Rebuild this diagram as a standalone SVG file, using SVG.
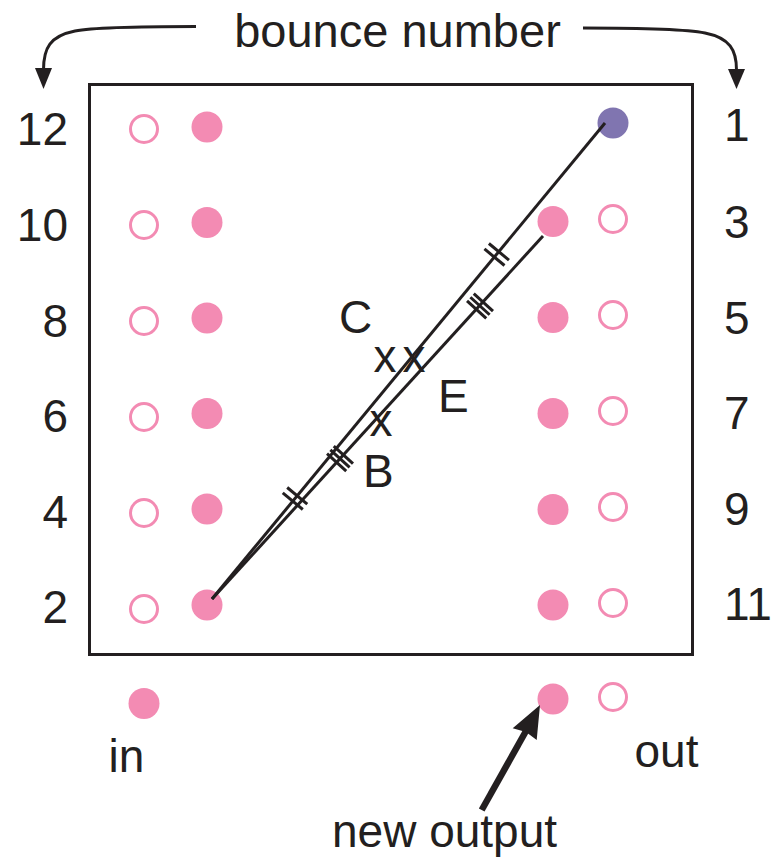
<svg xmlns="http://www.w3.org/2000/svg" width="778" height="863" viewBox="0 0 778 863">
  <style>
    text { font-family: "Liberation Sans", Arial, Helvetica, sans-serif; font-size: 46px; fill: #231F20; }
    .fill { fill: #F38BB3; }
    .open { fill: #FFFFFF; stroke: #F38BB3; stroke-width: 3; }
    .purple { fill: #8075B0; }
    .ln { stroke: #231F20; stroke-width: 3; fill: none; }
    .tick { stroke: #231F20; stroke-width: 3; }
  </style>
  <rect width="778" height="863" fill="#FFFFFF"/>

  <g id="title">
    <text x="397.5" y="47" text-anchor="middle" style="font-size:47px">bounce number</text>
  </g>

  <g id="box">
    <rect x="89.5" y="84.5" width="603" height="570" fill="none" stroke="#231F20" stroke-width="3"/>
  </g>

  <g id="left-labels">
    <text x="68" y="145" text-anchor="end">12</text>
    <text x="68" y="241" text-anchor="end">10</text>
    <text x="68" y="337" text-anchor="end">8</text>
    <text x="68" y="432" text-anchor="end">6</text>
    <text x="68" y="528" text-anchor="end">4</text>
    <text x="68" y="623" text-anchor="end">2</text>
  </g>
  <g id="right-labels">
    <text x="724" y="141">1</text>
    <text x="724" y="238">3</text>
    <text x="724" y="334">5</text>
    <text x="724" y="429">7</text>
    <text x="724" y="525">9</text>
    <text x="724" y="620">11</text>
  </g>

  <g id="left-open">
    <circle class="open" cx="144" cy="129" r="13.5"/>
    <circle class="open" cx="144" cy="225" r="13.5"/>
    <circle class="open" cx="144" cy="321" r="13.5"/>
    <circle class="open" cx="144" cy="417" r="13.5"/>
    <circle class="open" cx="144" cy="513" r="13.5"/>
    <circle class="open" cx="144" cy="609" r="13.5"/>
  </g>
  <g id="left-filled">
    <circle class="fill" cx="207" cy="127" r="15.5"/>
    <circle class="fill" cx="207" cy="222.5" r="15.5"/>
    <circle class="fill" cx="207" cy="318" r="15.5"/>
    <circle class="fill" cx="207" cy="413.5" r="15.5"/>
    <circle class="fill" cx="207" cy="509" r="15.5"/>
    <circle class="fill" cx="207" cy="605" r="15.5"/>
  </g>
  <g id="right-filled">
    <circle class="fill" cx="553" cy="221.5" r="15.5"/>
    <circle class="fill" cx="553" cy="317.5" r="15.5"/>
    <circle class="fill" cx="553" cy="413.5" r="15.5"/>
    <circle class="fill" cx="553" cy="509.5" r="15.5"/>
    <circle class="fill" cx="553" cy="605" r="15.5"/>
  </g>
  <g id="right-open">
    <circle class="open" cx="613" cy="219" r="13.5"/>
    <circle class="open" cx="613" cy="315" r="13.5"/>
    <circle class="open" cx="613" cy="411" r="13.5"/>
    <circle class="open" cx="613" cy="507" r="13.5"/>
    <circle class="open" cx="613" cy="603" r="13.5"/>
  </g>
  <g id="purple-dot">
    <circle class="purple" cx="613" cy="123" r="15.5"/>
  </g>

  <g id="in-node">
    <circle class="fill" cx="144" cy="703.5" r="15.5"/>
    <text x="108.5" y="772">in</text>
  </g>
  <g id="out-node">
    <circle class="fill" cx="553" cy="699" r="15.5"/>
    <circle class="open" cx="613" cy="697" r="13.5"/>
    <text x="634.5" y="767">out</text>
  </g>
  <g id="new-output-label">
    <text x="332" y="847">new output</text>
  </g>

  <g id="connectors">
    <!-- top bounce arrows -->
    <path class="ln" stroke-width="3.5" d="M196,26.5 C140,26.5 95,27 75,31 C50,36 43.5,48 43.5,70"/>
    <polygon points="35,68 52,68 43.5,89" fill="#231F20"/>
    <path class="ln" stroke-width="3.5" d="M583,28 C640,28 685,29 705,33 C730,38 736.5,50 736.5,70"/>
    <polygon points="728,69 745,69 736.5,89" fill="#231F20"/>

    <!-- ray paths -->
    <line class="ln" x1="605" y1="123" x2="212" y2="599"/>
    <line class="ln" x1="543" y1="236" x2="212" y2="599"/>

    <!-- tick marks -->
    <g transform="translate(496.7,254.5) rotate(-50.46)">
      <line class="tick" x1="-3.5" y1="-13" x2="-3.5" y2="13"/>
      <line class="tick" x1="3.5" y1="-13" x2="3.5" y2="13"/>
    </g>
    <g transform="translate(295,498.5) rotate(-50.46)">
      <line class="tick" x1="-3.5" y1="-13" x2="-3.5" y2="13"/>
      <line class="tick" x1="3.5" y1="-13" x2="3.5" y2="13"/>
    </g>
    <g transform="translate(480,306) rotate(-47.64)">
      <line class="tick" x1="-5" y1="-13" x2="-5" y2="13"/>
      <line class="tick" x1="0" y1="-13" x2="0" y2="13"/>
      <line class="tick" x1="5" y1="-13" x2="5" y2="13"/>
    </g>
    <g transform="translate(340,458.6) rotate(-47.64)">
      <line class="tick" x1="-5" y1="-13" x2="-5" y2="13"/>
      <line class="tick" x1="0" y1="-13" x2="0" y2="13"/>
      <line class="tick" x1="5" y1="-13" x2="5" y2="13"/>
    </g>

    <!-- new output arrow -->
    <line x1="481.7" y1="810" x2="526" y2="731" stroke="#231F20" stroke-width="6.5"/>
    <polygon points="540,705 536.7,740 526,732 512.7,728.3" fill="#231F20"/>
  </g>

  <g id="point-labels">
    <text x="339" y="333">C</text>
    <text x="438" y="411.7">E</text>
    <text x="363" y="486.7">B</text>
    <text x="385" y="371.7" text-anchor="middle">x</text>
    <text x="414" y="372" text-anchor="middle">x</text>
    <text x="381" y="436" text-anchor="middle">x</text>
  </g>
</svg>
